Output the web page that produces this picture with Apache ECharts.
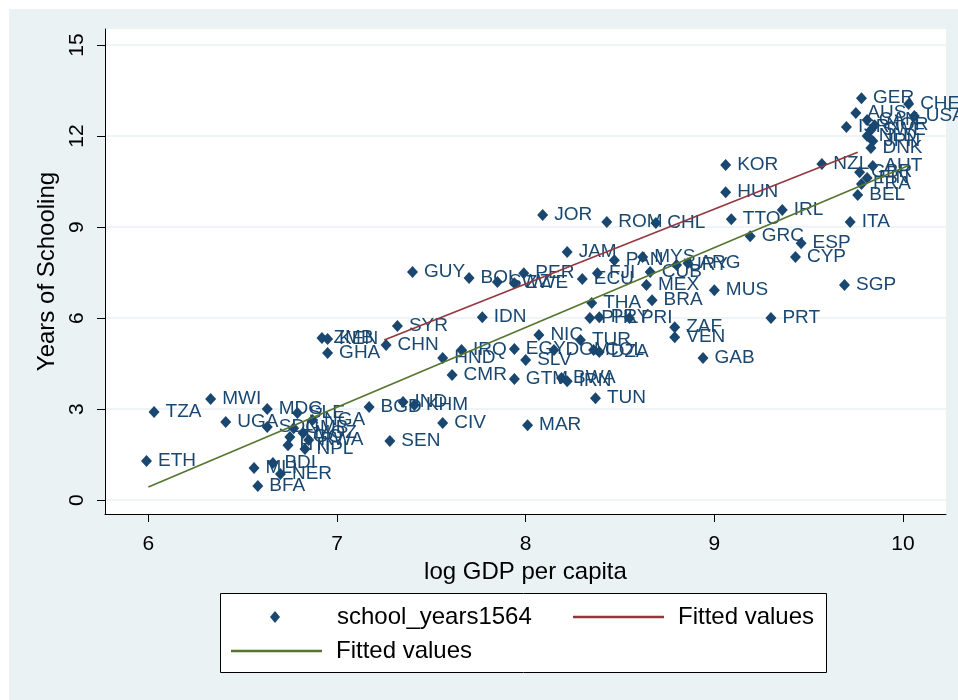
<!DOCTYPE html>
<html>
<head>
<meta charset="utf-8">
<title>Years of Schooling and log GDP per capita</title>
<script src="https://cdn.jsdelivr.net/npm/echarts@6.0.0/dist/echarts.min.js"></script>
<style>
html, body { margin: 0; padding: 0; background: #fff; }
#schoolChart { width: 958px; height: 700px; }
</style>
</head>
<body>
<div id="schoolChart"></div>
<script>
// country codes, log GDP per capita, years of schooling (15-64)
var countries = ['GER', 'CHE', 'AUS', 'USA', 'CAN', 'NOR', 'SWE', 'NLD', 'JPN', 'ISR',
	'DNK', 'AUT', 'NZL', 'GBR', 'FIN', 'FRA', 'BEL', 'KOR', 'HUN', 'TTO',
	'IRL', 'ITA', 'GRC', 'ESP', 'CYP', 'SGP', 'MUS', 'PRT', 'JOR', 'ROM',
	'CHL', 'JAM', 'PAN', 'MYS', 'URY', 'ARG', 'CUB', 'MEX', 'FJI', 'ECU',
	'PER', 'ZWE', 'SWZ', 'BOL', 'GUY', 'THA', 'BRA', 'PHL', 'PRY', 'PRI',
	'IDN', 'ZAF', 'VEN', 'GAB', 'TUR', 'NIC', 'EGY', 'DOM', 'COL', 'DZA',
	'SLV', 'IRQ', 'HND', 'CMR', 'GTM', 'BWA', 'IRN', 'TUN', 'MAR', 'CIV',
	'SEN', 'BGD', 'IND', 'KHM', 'SYR', 'CHN', 'ZMB', 'KEN', 'GHA', 'TZA',
	'MWI', 'UGA', 'ETH', 'MDG', 'SLE', 'SDN', 'NGA', 'GMB', 'MOZ', 'TGO',
	'RWA', 'HTI', 'NPL', 'BDI', 'MLI', 'NER', 'BFA'];
var logGdp = [9.78, 10.03, 9.75, 10.06, 9.81, 9.85, 9.83, 9.81, 9.84, 9.70,
	9.83, 9.84, 9.57, 9.77, 9.81, 9.78, 9.76, 9.06, 9.06, 9.09,
	9.36, 9.72, 9.19, 9.46, 9.43, 9.69, 9.00, 9.30, 8.09, 8.43,
	8.69, 8.22, 8.47, 8.62, 8.80, 8.86, 8.66, 8.64, 8.38, 8.30,
	7.99, 7.94, 7.85, 7.70, 7.40, 8.35, 8.67, 8.34, 8.39, 8.55,
	7.77, 8.79, 8.79, 8.94, 8.29, 8.07, 7.94, 8.15, 8.36, 8.39,
	8.00, 7.66, 7.56, 7.61, 7.94, 8.19, 8.22, 8.37, 8.01, 7.56,
	7.28, 7.17, 7.35, 7.41, 7.32, 7.26, 6.92, 6.95, 6.95, 6.03,
	6.33, 6.41, 5.99, 6.63, 6.79, 6.63, 6.87, 6.77, 6.82, 6.75,
	6.85, 6.74, 6.83, 6.66, 6.56, 6.70, 6.58];
var schoolYears = [13.25, 13.06, 12.76, 12.66, 12.53, 12.36, 12.20, 12.00, 11.84, 12.30,
	11.61, 11.01, 11.08, 10.81, 10.62, 10.42, 10.06, 11.05, 10.15, 9.26,
	9.56, 9.17, 8.70, 8.47, 8.01, 7.09, 6.92, 6.00, 9.40, 9.17,
	9.13, 8.18, 7.91, 8.01, 7.75, 7.81, 7.52, 7.09, 7.48, 7.29,
	7.48, 7.15, 7.19, 7.32, 7.52, 6.50, 6.59, 6.00, 6.03, 6.00,
	6.03, 5.70, 5.37, 4.68, 5.28, 5.44, 4.98, 4.95, 4.95, 4.88,
	4.62, 4.95, 4.68, 4.12, 3.99, 4.02, 3.92, 3.36, 2.47, 2.54,
	1.95, 3.07, 3.23, 3.13, 5.74, 5.11, 5.34, 5.31, 4.85, 2.90,
	3.33, 2.57, 1.29, 3.00, 2.87, 2.41, 2.64, 2.37, 2.21, 2.08,
	1.98, 1.81, 1.68, 1.22, 1.06, 0.86, 0.46];
// fitted values (line end points)
var fitRedX = [7.25, 9.76];
var fitRedY = [5.28, 11.47];
var fitGreenX = [6.00, 10.03];
var fitGreenY = [0.43, 11.03];
// axis ticks
var xTicks = [6, 7, 8, 9, 10];
var yTicks = [0, 3, 6, 9, 12, 15];

var myChart;
var navy = '#1a476f';
var maroon = '#93373e';
var olive = '#55752f';
var fontName = '"Liberation Sans", Arial, sans-serif';
var legendText = { fontSize: 24, color: '#000', fontFamily: fontName, padding: [0, 0, 0, 9] };
var lineIcon = 'path://M0,0L100,0L100,3L0,3Z';

eChartInit();
chartSetting();

function pairs(xs, ys, names) {
	var lst = [];
	for (var i = 0; i < xs.length; i++) {
		lst.push(names ? [xs[i], ys[i], names[i]] : [xs[i], ys[i]]);
	}
	return lst;
}
// 图表设置
function chartSetting() {
	var option = {
		animation: false,
		backgroundColor: '#eaf2f3',
		textStyle: { fontFamily: fontName },
		graphic: [
			{ type: 'rect', z: 0, shape: { x: 0, y: 0, width: 958, height: 9 }, style: { fill: '#fff' } },
			{ type: 'rect', z: 0, shape: { x: 0, y: 0, width: 9, height: 700 }, style: { fill: '#fff' } },
			{ type: 'rect', z: 1, shape: { x: 220.5, y: 593.5, width: 606, height: 79 }, style: { fill: '#fff', stroke: '#000', lineWidth: 1 } }
		],
		grid: {
			left: 105,
			right: 12,
			top: 29,
			bottom: 186,
			show: true,
			backgroundColor: '#fff',
			borderWidth: 0,
			outerBoundsMode: 'none'
		},
		legend: [{
			left: 270, top: 605, padding: 0,
			itemWidth: 88, itemHeight: 12,
			textStyle: { fontSize: 24, color: '#000', fontFamily: fontName, padding: [0, 0, 0, 13] },
			data: [{ name: 'school_years1564', icon: 'path://M5,0L10,6L5,12L0,6Z' }]
		}, {
			left: 573, top: 605, padding: 0,
			itemWidth: 91, itemHeight: 12,
			textStyle: legendText,
			data: [{ name: 'Fitted values', icon: lineIcon }]
		}, {
			left: 231, top: 639, padding: 0,
			itemWidth: 91, itemHeight: 12,
			textStyle: legendText,
			data: [{ name: 'Fitted values ', icon: lineIcon }]
		}],
		xAxis: {
			type: 'value',
			min: 5.77,
			max: 10.228,
			name: 'log GDP per capita',
			nameLocation: 'middle',
			nameGap: 34,
			nameTextStyle: { fontSize: 24, color: '#000' },
			axisLine: { show: true, onZero: false, lineStyle: { color: '#000', width: 1 } },
			axisTick: { show: true, length: 8, lineStyle: { color: '#000' }, customValues: xTicks },
			axisLabel: { fontSize: 21, color: '#000', margin: 20, customValues: xTicks },
			splitLine: { show: false }
		},
		yAxis: {
			type: 'value',
			min: -0.46,
			max: 15.53,
			name: 'Years of Schooling',
			nameLocation: 'middle',
			nameGap: 41,
			nameRotate: 90,
			nameTextStyle: { fontSize: 24, color: '#000' },
			axisLine: { show: true, onZero: false, lineStyle: { color: '#000', width: 1 } },
			axisTick: { show: true, length: 8, lineStyle: { color: '#000' }, customValues: yTicks },
			axisLabel: { fontSize: 21, color: '#000', margin: 17, rotate: 90, customValues: yTicks },
			splitLine: { show: true, lineStyle: { color: '#eaf2f3', width: 1.5 } }
		},
		series: [{
			name: 'school_years1564',
			type: 'scatter',
			symbol: 'diamond',
			symbolSize: [11, 12],
			itemStyle: { color: navy, opacity: 1 },
			label: {
				show: true,
				position: 'right',
				distance: 6,
				color: navy,
				fontSize: 19,
				fontFamily: fontName,
				formatter: function(params) {
					return params.value[2];
				}
			},
			data: pairs(logGdp, schoolYears, countries)
		}, {
			name: 'Fitted values',
			type: 'line',
			symbol: 'none',
			lineStyle: { color: maroon, width: 1.6 },
			itemStyle: { color: maroon },
			data: pairs(fitRedX, fitRedY)
		}, {
			name: 'Fitted values ',
			type: 'line',
			symbol: 'none',
			lineStyle: { color: olive, width: 1.6 },
			itemStyle: { color: olive },
			data: pairs(fitGreenX, fitGreenY)
		}]
	};
	myChart.setOption(option);
}
// 图表初始化
function eChartInit() {
	myChart = echarts.init(document.getElementById('schoolChart'));
	window.onresize = myChart.resize;
}
</script>
</body>
</html>
